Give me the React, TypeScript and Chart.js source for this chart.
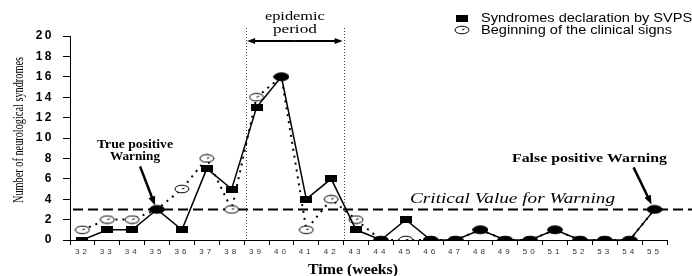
import React, { useEffect, useRef } from 'react';
import { Chart, registerables } from 'chart.js';

Chart.register(...registerables);

// ---------- data ----------
const weeks = ['32', '33', '34', '35', '36', '37', '38', '39', '40', '41', '42', '43',
  '44', '45', '46', '47', '48', '49', '50', '51', '52', '53', '54', '55'];
const svps = [0, 1, 1, 3, 1, 7, 5, 13, 16, 4, 6, 1, 0, 2, 0, 0, 1, 0, 0, 1, 0, 0, 0, 3];
const clinical = [1, 2, 2, 3, 5, 8, 3, 14, 16, 1, 4, 2, 0, 0, 0, 0, 1, 0, 0, 1, 0, 0, 0, 3];
const seriesLabels = ['Syndromes declaration by SVPS', 'Beginning of the clinical signs'];
const Y_MIN = 0;
const Y_MAX = 20;
const Y_STEP = 2;
const CRITICAL = 3;
const epidemicWeeks = ['39', '42'];
const truePositiveWeek = '35';
const falsePositiveWeek = '55';
const yTitle = 'Number of neurological syndromes';
const xTitle = 'Time (weeks)';
const criticalLabel = 'Critical Value for Warning';
const epidemicLabel = ['epidemic', 'period'];
const truePositiveLabel = ['True positive', 'Warning'];
const falsePositiveLabel = 'False positive Warning';

function makeCanvas(w: number, h: number, draw: (c: CanvasRenderingContext2D) => void) {
  const c = document.createElement('canvas');
  c.width = w;
  c.height = h;
  draw(c.getContext('2d') as CanvasRenderingContext2D);
  return c;
}

function fitText(ctx: CanvasRenderingContext2D, text: string, x: number, y: number, width: number, font: string) {
  ctx.save();
  ctx.font = font;
  ctx.textBaseline = 'middle';
  ctx.textAlign = 'left';
  ctx.fillStyle = '#000';
  const w = ctx.measureText(text).width;
  ctx.translate(x, y);
  ctx.scale(width / w, 1);
  ctx.fillText(text, 0, 0);
  ctx.restore();
}

function arrow(ctx: CanvasRenderingContext2D, x1: number, y1: number, x2: number, y2: number, lw: number, hl: number, hw: number) {
  const ang = Math.atan2(y2 - y1, x2 - x1);
  ctx.save();
  ctx.strokeStyle = '#000';
  ctx.fillStyle = '#000';
  ctx.lineWidth = lw;
  ctx.beginPath();
  ctx.moveTo(x1, y1);
  ctx.lineTo(x2 - Math.cos(ang) * hl * 0.8, y2 - Math.sin(ang) * hl * 0.8);
  ctx.stroke();
  ctx.beginPath();
  ctx.moveTo(x2, y2);
  ctx.lineTo(x2 - Math.cos(ang) * hl - Math.sin(ang) * hw / 2, y2 - Math.sin(ang) * hl + Math.cos(ang) * hw / 2);
  ctx.lineTo(x2 - Math.cos(ang) * hl + Math.sin(ang) * hw / 2, y2 - Math.sin(ang) * hl - Math.cos(ang) * hw / 2);
  ctx.closePath();
  ctx.fill();
  ctx.restore();
}

export default function App() {
  const ref = useRef<HTMLCanvasElement | null>(null);

  useEffect(() => {
    const canvas = ref.current;
    if (!canvas) return;

    const squareImg = makeCanvas(12, 7, (c) => {
      c.fillStyle = '#000';
      c.fillRect(0, 0, 12, 7);
    });
    const openImg = makeCanvas(16, 10, (c) => {
      c.fillStyle = '#fff';
      c.strokeStyle = '#000';
      c.lineWidth = 1;
      c.beginPath();
      c.ellipse(8, 5, 7, 3.8, 0, 0, Math.PI * 2);
      c.fill();
      c.stroke();
      c.beginPath();
      c.moveTo(8, 5);
      c.lineTo(10.5, 4);
      c.stroke();
    });
    const filledImg = makeCanvas(16, 9, (c) => {
      c.fillStyle = '#000';
      c.beginPath();
      c.ellipse(8, 4.5, 7.8, 4, 0, 0, Math.PI * 2);
      c.fill();
    });

    const annot = {
      id: 'annot',
      beforeDraw(chart: any) {
        chart.ctx.letterSpacing = '3px';
      },
      beforeDatasetsDraw(chart: any) {
        const ctx = chart.ctx as CanvasRenderingContext2D;
        ctx.letterSpacing = '0px';
        const { chartArea } = chart;
        const xs = chart.scales.x;
        const ys = chart.scales.y;
        // critical dashed line
        const yc = ys.getPixelForValue(CRITICAL);
        ctx.save();
        ctx.strokeStyle = '#000';
        ctx.lineWidth = 2;
        ctx.setLineDash([10, 5]);
        ctx.beginPath();
        ctx.moveTo(chartArea.left + 3, yc);
        ctx.lineTo(chart.width, yc);
        ctx.stroke();
        ctx.restore();
        // epidemic boundaries
        const i0 = weeks.indexOf(epidemicWeeks[0]);
        const i1 = weeks.indexOf(epidemicWeeks[1]);
        const xa = (xs.getPixelForValue(i0 - 1) + xs.getPixelForValue(i0)) / 2 + 2;
        const xb = (xs.getPixelForValue(i1) + xs.getPixelForValue(i1 + 1)) / 2;
        ctx.save();
        ctx.strokeStyle = '#444';
        ctx.lineWidth = 1;
        ctx.setLineDash([1, 2]);
        for (const x of [xa, xb]) {
          ctx.beginPath();
          ctx.moveTo(Math.round(x) + 0.5, 28);
          ctx.lineTo(Math.round(x) + 0.5, chartArea.bottom);
          ctx.stroke();
        }
        ctx.restore();
        arrow(ctx, (xa + xb) / 2, 41, xa + 1, 41, 2, 8, 6);
        arrow(ctx, (xa + xb) / 2, 41, xb - 1, 41, 2, 8, 6);
        const cx = (xa + xb) / 2;
        fitText(ctx, epidemicLabel[0], cx - 30, 17, 60, '13px "Liberation Serif", serif');
        fitText(ctx, epidemicLabel[1], cx - 22, 30, 44, '13px "Liberation Serif", serif');
      },
      afterDatasetsDraw(chart: any) {
        chart.ctx.letterSpacing = '2.5px';
      },
      afterDraw(chart: any) {
        const ctx = chart.ctx as CanvasRenderingContext2D;
        ctx.letterSpacing = '0px';
        const xs = chart.scales.x;
        const ys = chart.scales.y;
        // critical label
        fitText(ctx, criticalLabel, 410, 199, 205, 'italic 14px "Liberation Serif", serif');
        // true positive
        const tpx = xs.getPixelForValue(weeks.indexOf(truePositiveWeek));
        const tpy = ys.getPixelForValue(svps[weeks.indexOf(truePositiveWeek)]);
        fitText(ctx, truePositiveLabel[0], 97, 145, 76, 'bold 12px "Liberation Serif", serif');
        fitText(ctx, truePositiveLabel[1], 110, 157, 50, 'bold 12px "Liberation Serif", serif');
        arrow(ctx, tpx - 17, tpy - 43, tpx - 2, tpy - 4, 2.5, 9, 7);
        // false positive
        const fpx = xs.getPixelForValue(weeks.indexOf(falsePositiveWeek));
        const fpy = ys.getPixelForValue(svps[weeks.indexOf(falsePositiveWeek)]);
        fitText(ctx, falsePositiveLabel, 512, 159, 155, 'bold 12px "Liberation Serif", serif');
        arrow(ctx, fpx - 21, fpy - 42, fpx - 3, fpy - 5, 2.5, 9, 7);
        // axis titles
        fitText(ctx, xTitle, 308, 270, 90, 'bold 14px "Liberation Serif", serif');
        ctx.save();
        ctx.font = '14px "Liberation Serif", serif';
        const tw = ctx.measureText(yTitle).width;
        ctx.translate(19, 130);
        ctx.rotate(-Math.PI / 2);
        ctx.scale(146 / tw, 1);
        ctx.textAlign = 'center';
        ctx.textBaseline = 'middle';
        ctx.fillStyle = '#000';
        ctx.fillText(yTitle, 0, 0);
        ctx.restore();
        // legend
        ctx.drawImage(squareImg, 456, 15);
        ctx.drawImage(openImg, 454, 25);
        ctx.save();
        ctx.font = '12px "Liberation Sans", Arial, sans-serif';
        const w1 = ctx.measureText(seriesLabels[0]).width;
        const w2 = ctx.measureText(seriesLabels[1]).width;
        ctx.restore();
        const s = 191 / w2;
        fitText(ctx, seriesLabels[0], 481, 19, w1 * s, '12px "Liberation Sans", Arial, sans-serif');
        fitText(ctx, seriesLabels[1], 481, 31, 191, '12px "Liberation Sans", Arial, sans-serif');
      },
    };

    const chart = new Chart(canvas, {
      type: 'line',
      data: {
        labels: weeks,
        datasets: [
          {
            label: seriesLabels[0],
            data: svps,
            borderColor: '#000',
            borderWidth: 1.5,
            tension: 0,
            pointStyle: (c: any) => (svps[c.dataIndex] === clinical[c.dataIndex] ? filledImg : squareImg),
            pointRadius: 6,
            order: 0,
          },
          {
            label: seriesLabels[1],
            data: clinical,
            borderColor: '#000',
            borderWidth: 2,
            borderDash: [2, 5],
            tension: 0,
            pointStyle: openImg,
            pointRadius: 6,
            order: 1,
          },
        ],
      },
      options: {
        animation: false,
        responsive: false,
        layout: { padding: { left: 33, top: 36, right: 25, bottom: 0 } },
        plugins: { legend: { display: false }, tooltip: { enabled: false } },
        scales: {
          x: {
            type: 'category',
            offset: true,
            afterFit: (s: any) => { s.height = 36; },
            grid: { display: true, offset: true, drawOnChartArea: false, tickLength: 5, color: '#000', tickWidth: 1 },
            border: { display: true, color: '#000', width: 1 },
            ticks: {
              z: 0,
              padding: 2,
              color: '#333',
              font: { family: '"Liberation Sans", Arial, sans-serif', size: 8 },
              maxRotation: 0,
              autoSkip: false,
            },
          },
          y: {
            min: Y_MIN,
            max: Y_MAX,
            afterFit: (s: any) => { s.width = 37; },
            grid: { display: true, drawOnChartArea: false, tickLength: 7, color: '#000' },
            border: { display: true, color: '#000', width: 1 },
            ticks: {
              z: 1,
              stepSize: Y_STEP,
              crossAlign: 'near',
              padding: 9,
              color: '#000',
              font: { family: '"Liberation Sans", Arial, sans-serif', size: 12, weight: 'bold' },
            },
          },
        },
      },
      plugins: [annot],
    } as any);

    return () => chart.destroy();
  }, []);

  return (
    <div style={{ position: 'fixed', left: 0, top: 0, width: 692, height: 276, background: '#fff' }}>
      <canvas ref={ref} width={692} height={276} style={{ width: 692, height: 276, display: 'block' }} />
    </div>
  );
}
